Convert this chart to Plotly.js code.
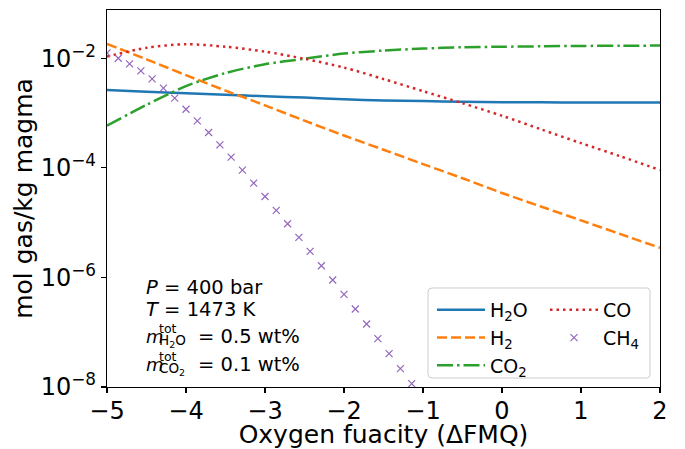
<!DOCTYPE html>
<html>
<head>
<meta charset="utf-8">
<script src="https://cdn.plot.ly/plotly-3.0.1.min.js"></script>
<style>html,body{margin:0;padding:0;background:#fff;}#chart{width:685px;height:449px;}</style>
</head>
<body>
<div id="chart"></div>
<script>
// Oxygen fugacity grid (ΔFMQ) for the line species
const dFMQ = [-5, -4.5, -4, -3.5, -3, -2.5, -2, -1.5, -1, -0.5, 0, 0.5, 1, 1.5, 2];
// mol gas / kg magma
const H2O = [2.64e-3, 2.45e-3, 2.29e-3, 2.16e-3, 2.02e-3, 1.91e-3, 1.78e-3, 1.70e-3, 1.66e-3, 1.60e-3, 1.58e-3, 1.57e-3, 1.556e-3, 1.55e-3, 1.55e-3];
const H2  = [1.82e-2, 9.55e-3, 4.90e-3, 2.57e-3, 1.38e-3, 7.24e-4, 3.89e-4, 2.14e-4, 1.17e-4, 6.46e-5, 3.47e-5, 1.95e-5, 1.10e-5, 6.17e-6, 3.47e-6];
const CO2 = [5.89e-4, 1.41e-3, 3.09e-3, 5.37e-3, 7.76e-3, 9.77e-3, 1.216e-2, 1.38e-2, 1.50e-2, 1.585e-2, 1.62e-2, 1.65e-2, 1.675e-2, 1.69e-2, 1.70e-2];
const CO  = [1.07e-2, 1.55e-2, 1.80e-2, 1.62e-2, 1.32e-2, 9.77e-3, 6.76e-3, 4.17e-3, 2.51e-3, 1.51e-3, 8.91e-4, 5.01e-4, 2.82e-4, 1.62e-4, 9.12e-5];
// CH4 sampled points (markers)
const dFMQ_CH4 = [-5, -4.857, -4.714, -4.571, -4.429, -4.286, -4.143, -4, -3.857, -3.714, -3.571, -3.429, -3.286, -3.143, -3, -2.857, -2.714, -2.571, -2.429, -2.286, -2.143, -2, -1.857, -1.714, -1.571, -1.429, -1.286, -1.143, -1, -0.857];
const CH4 = [1.25e-2, 1.00e-2, 7.87e-3, 5.86e-3, 4.19e-3, 2.84e-3, 1.87e-3, 1.17e-3, 7.19e-4, 4.41e-4, 2.62e-4, 1.57e-4, 9.08e-5, 5.26e-5, 3.00e-5, 1.67e-5, 9.53e-6, 5.36e-6, 2.98e-6, 1.63e-6, 8.97e-7, 4.90e-7, 2.65e-7, 1.41e-7, 7.62e-8, 4.06e-8, 2.16e-8, 1.15e-8, 6.2e-9, 3.2e-9];
// Tick labels
const xTicks = [-5, -4, -3, -2, -1, 0, 1, 2];
const yTickVals = [1e-8, 1e-6, 1e-4, 1e-2];
const yTickText = ['10<sup>−8</sup>', '10<sup>−6</sup>', '10<sup>−4</sup>', '10<sup>−2</sup>'];

const FONT = 'DejaVu Sans, sans-serif';
const LW = 2.5;
const W = 685, H = 449;
const L = 107, R = 660, T = 10, B = 387;
const PW = R - L, PH = B - T;
const px2x = p => (p - L) / PW;
const px2y = p => (B - p) / PH;

const traces = [
  {x: dFMQ, y: H2O, name: 'H<sub>2</sub>O', mode: 'lines', legend: 'legend',
   line: {color: '#1f77b4', width: LW, shape: 'spline', smoothing: 0.8}},
  {x: dFMQ, y: H2, name: 'H<sub>2</sub>', mode: 'lines', legend: 'legend',
   line: {color: '#ff7f0e', width: LW, dash: '10px,4px', shape: 'spline', smoothing: 0.8}},
  {x: dFMQ, y: CO2, name: 'CO<sub>2</sub>', mode: 'lines', legend: 'legend',
   line: {color: '#2ca02c', width: LW, dash: '16px,4px,2.5px,4px', shape: 'spline', smoothing: 0.8}},
  {x: dFMQ, y: CO, name: 'CO', mode: 'lines', legend: 'legend2',
   line: {color: '#d62728', width: LW, dash: '2.5px,4px', shape: 'spline', smoothing: 0.8}},
  {x: dFMQ_CH4, y: CH4, name: 'CH<sub>4</sub>', mode: 'markers', legend: 'legend2',
   marker: {symbol: 'x-thin', size: 7, color: '#9467bd', line: {color: '#9467bd', width: 1.2}}}
];

function ann(text, px, py, size) {
  return {xref: 'paper', yref: 'paper', x: 0, y: 0, xanchor: 'left', yanchor: 'middle',
          xshift: px - L, yshift: B - py, text: text, showarrow: false,
          font: {family: FONT, size: size, color: '#000'}};
}
const annotations = [
  ann('<i>P</i> = 400 bar', 144, 287, 19.5),
  ann('<i>T</i> = 1473 K', 144, 309, 19.5),
  ann('<i>m</i>', 144, 336, 18),
  ann('tot', 157, 328, 12.5),
  ann('H<sub>2</sub>O', 157, 341, 13.5),
  ann('= 0.5 wt%', 196, 336, 19.5),
  ann('<i>m</i>', 144, 364, 18),
  ann('tot', 157, 356, 12.5),
  ann('CO<sub>2</sub>', 157, 369, 13.5),
  ann('= 0.1 wt%', 196, 364, 19.5)
];

// rounded legend frame (pixel coords -> paper)
function roundRect(x0, y0, x1, y1, r) {
  const X = p => px2x(p).toFixed(5), Y = p => px2y(p).toFixed(5);
  return `M${X(x0 + r)},${Y(y0)} L${X(x1 - r)},${Y(y0)} Q${X(x1)},${Y(y0)} ${X(x1)},${Y(y0 + r)} ` +
         `L${X(x1)},${Y(y1 - r)} Q${X(x1)},${Y(y1)} ${X(x1 - r)},${Y(y1)} L${X(x0 + r)},${Y(y1)} ` +
         `Q${X(x0)},${Y(y1)} ${X(x0)},${Y(y1 - r)} L${X(x0)},${Y(y0 + r)} Q${X(x0)},${Y(y0)} ${X(x0 + r)},${Y(y0)} Z`;
}
const shapes = [{
  type: 'path', xref: 'paper', yref: 'paper', layer: 'above',
  path: roundRect(428, 288, 650, 378, 4),
  fillcolor: 'rgba(255,255,255,0.8)', line: {color: '#cccccc', width: 1}
}];

const legendCommon = {
  orientation: 'v', xanchor: 'left', yanchor: 'top',
  bgcolor: 'rgba(0,0,0,0)', borderwidth: 0, itemwidth: 48,
  font: {family: FONT, size: 19, color: '#000'}, traceorder: 'normal'
};

const layout = {
  width: W, height: H,
  margin: {l: L, r: W - R, t: T, b: H - B},
  paper_bgcolor: '#fff', plot_bgcolor: '#fff',
  font: {family: FONT, color: '#000'},
  showlegend: true,
  legend: Object.assign({}, legendCommon, {x: px2x(432), y: px2y(291)}),
  legend2: Object.assign({}, legendCommon, {x: px2x(545), y: px2y(291)}),
  xaxis: {
    range: [-5, 2], tickvals: xTicks, showgrid: false, zeroline: false,
    showline: true, mirror: true, linecolor: '#000', linewidth: 1.2,
    ticks: 'outside', ticklen: 5, tickwidth: 1.2, tickcolor: '#000',
    tickfont: {family: FONT, size: 24, color: '#000'}, ticklabelstandoff: -3,
    title: {text: 'Oxygen fuacity (ΔFMQ)', font: {family: FONT, size: 25, color: '#000'}, standoff: 0}
  },
  yaxis: {
    type: 'log', range: [-8, -1.12], tickvals: yTickVals, ticktext: yTickText,
    showgrid: false, zeroline: false,
    showline: true, mirror: true, linecolor: '#000', linewidth: 1.2,
    ticks: 'outside', ticklen: 5, tickwidth: 1.2, tickcolor: '#000',
    tickfont: {family: FONT, size: 24, color: '#000'},
    title: {text: 'mol gas/kg magma', font: {family: FONT, size: 25, color: '#000'}, standoff: 1}
  },
  shapes: shapes,
  annotations: annotations
};

Plotly.newPlot('chart', traces, layout, {staticPlot: true, displayModeBar: false});
</script>
</body>
</html>
